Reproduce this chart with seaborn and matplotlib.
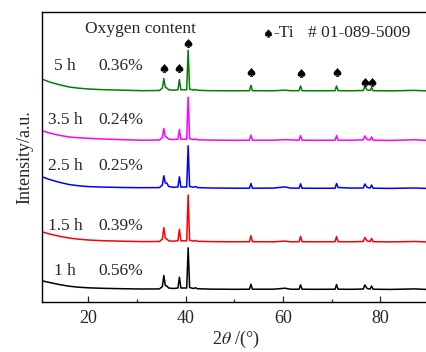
import numpy as np
import pandas as pd
import matplotlib
matplotlib.use("Agg")
import matplotlib.pyplot as plt
import seaborn as sns

# 2theta sampling points (degrees)
two_theta = [10.4, 12, 14, 16, 18, 20, 23, 27, 31, 34.6, 35.2, 35.5, 35.8, 36.1, 36.5,
             37.5, 38.4, 38.7, 39.0, 40.2, 40.5, 40.8, 41.6, 42.0, 42.4, 45, 50,
             53.1, 53.4, 53.7, 58, 60.4, 61.5, 63.3, 63.6, 63.9, 67, 70.7, 71.0, 71.3,
             74, 76.5, 76.8, 77.3, 77.9, 78.2, 78.5, 82, 87, 90]

# Intensities (a.u.) of each sample, above its own flat background
int_1h = [8.8, 7.0, 5.0, 3.3, 2.3, 1.7, 1.2, 0.8, 0.5, 0.6, 3.0, 14.0, 4.0, 3.5, 1.5,
          1.0, 1.5, 12.3, 1.5, 1.5, 41.7, 2.0, 1.0, 1.8, 0.8, 0.4, 0.2,
          0.3, 5.3, 0.3, 0.3, 1.3, 0.3, 0.3, 4.7, 0.3, 0.2, 0.3, 5.0, 0.3,
          0.2, 0.5, 4.5, 1.0, 0.5, 3.5, 0.3, 0.1, 0.6, 0.0]
int_1_5h = [10.3, 8.0, 5.8, 4.0, 2.8, 2.0, 1.3, 0.8, 0.4, 0.5, 3.0, 14.3, 3.8, 3.0, 1.2,
            0.8, 1.3, 12.7, 1.2, 1.2, 47.0, 1.8, 0.9, 1.6, 0.7, 0.4, 0.2,
            0.3, 6.3, 0.3, 0.2, 0.9, 0.2, 0.3, 5.7, 0.3, 0.2, 0.3, 5.5, 0.3,
            0.2, 0.5, 4.5, 1.0, 0.5, 3.5, 0.3, 0.1, 0.5, 0.0]
int_2_5h = [11.8, 9.0, 6.2, 4.0, 2.7, 1.9, 1.4, 1.0, 0.8, 0.9, 3.5, 12.7, 5.5, 5.5, 2.0,
            1.2, 1.5, 11.7, 1.5, 1.5, 42.7, 2.0, 1.2, 2.0, 0.9, 0.5, 0.3,
            0.3, 5.0, 0.3, 0.4, 1.6, 0.4, 0.3, 4.7, 0.3, 0.2, 0.3, 5.0, 1.0,
            0.4, 0.5, 4.5, 1.0, 0.5, 3.5, 0.3, 0.1, 0.5, 0.0]
int_3_5h = [9.8, 7.5, 5.2, 3.5, 2.7, 2.2, 1.5, 0.8, 0.3, 0.5, 3.0, 12.0, 3.8, 3.2, 1.3,
            0.9, 1.3, 11.0, 1.3, 1.3, 43.3, 1.8, 0.9, 1.5, 0.7, 0.4, 0.2,
            0.3, 5.3, 0.3, 0.3, 0.8, 0.6, 0.3, 5.0, 0.3, 0.2, 0.3, 5.0, 0.3,
            0.3, 0.6, 4.5, 1.0, 0.5, 3.5, 0.3, 0.1, 0.7, 0.0]
int_5h = [12.0, 9.0, 6.3, 4.0, 2.8, 2.0, 1.3, 0.8, 0.3, 0.5, 3.0, 12.4, 3.8, 3.0, 1.2,
          0.8, 1.2, 11.4, 1.2, 1.2, 40.7, 1.8, 0.9, 1.5, 0.7, 0.3, 0.2,
          0.3, 5.7, 0.3, 0.2, 0.8, 0.3, 0.3, 5.0, 0.3, 0.2, 0.3, 5.0, 0.3,
          0.2, 0.5, 4.5, 1.0, 0.5, 3.5, 0.3, 0.1, 0.6, 0.0]

times = ["1 h", "1.5 h", "2.5 h", "3.5 h", "5 h"]
oxygen_content = [0.56, 0.39, 0.25, 0.24, 0.36]

# Ti reflections marked with a spade
ti_peaks = [35.5, 38.7, 40.5, 53.4, 63.6, 71.0, 76.8, 78.2]

sns.set_theme(style="ticks")
plt.rcParams["font.family"] = ["Liberation Serif", "DejaVu Sans"]
plt.rcParams["mathtext.fontset"] = "stix"
plt.rcParams["axes.linewidth"] = 1.0

series = [int_1h, int_1_5h, int_2_5h, int_3_5h, int_5h]
offsets = [12.5, 60.0, 113.5, 161.5, 211.0]
colors = ["#000000", "#ff0000", "#0000ff", "#ff00ff", "#008000"]

frames = []
for t, vals, off in zip(times, series, offsets):
    frames.append(pd.DataFrame({"two_theta": two_theta,
                                "intensity": np.asarray(vals) + off,
                                "sample": t}))
df = pd.concat(frames, ignore_index=True)

fig = plt.figure(figsize=(4.27, 3.52), dpi=100)
ax = fig.add_axes([0.0977, 0.142, 0.907, 0.824])

sns.lineplot(data=df, x="two_theta", y="intensity", hue="sample",
             palette=dict(zip(times, colors)), estimator=None,
             linewidth=1.1, legend=False, ax=ax)

ax.set_xlim(10.4, 90)
ax.set_ylim(0, 290)
ax.set_yticks([])
ax.set_xticks([20, 40, 60, 80])
ax.set_xticks([30, 50, 70], minor=True)
ax.tick_params(axis="x", which="major", direction="in", length=4, width=0.9,
               labelsize=13, pad=6)
ax.tick_params(axis="x", which="minor", direction="in", length=2.5, width=0.9)
ax.spines["right"].set_visible(False)
for s in ["left", "bottom", "top"]:
    ax.spines[s].set_color("black")

ax.set_xlabel(r"2$\theta$ /(°)", fontsize=13, labelpad=1)
ax.set_ylabel("Intensity/a.u.", fontsize=13, labelpad=6)

# sample labels and oxygen content
label_y = [31, 76.3, 135.5, 181.5, 236.3]
for t, ox, y in zip(times, oxygen_content, label_y):
    ax.text(15.2, y, t, ha="center", va="center", fontsize=12.5)
    ax.text(22.0, y, f"{ox:.2f}%", ha="left", va="center", fontsize=12.5)
ax.text(30.8, 273, "Oxygen content", ha="center", va="center", fontsize=12.5)

# spade markers over Ti peaks of the top pattern
spade_y = [233.7, 233.7, 259.3, 230.3, 228.7, 229.7, 220, 220]
ax.plot(ti_peaks, spade_y, linestyle="none", marker=r"$\spadesuit$",
        markersize=6, markeredgewidth=0.3, color="black")

ax.plot([56.9], [268.5], linestyle="none", marker=r"$\spadesuit$",
        markersize=5.5, markeredgewidth=0.3, color="black")
ax.text(58.1, 269, "-Ti", ha="left", va="center", fontsize=12.5)
ax.text(65.1, 269, "# 01-089-5009", ha="left", va="center", fontsize=12.5)

fig.savefig("out.png", dpi=100)
